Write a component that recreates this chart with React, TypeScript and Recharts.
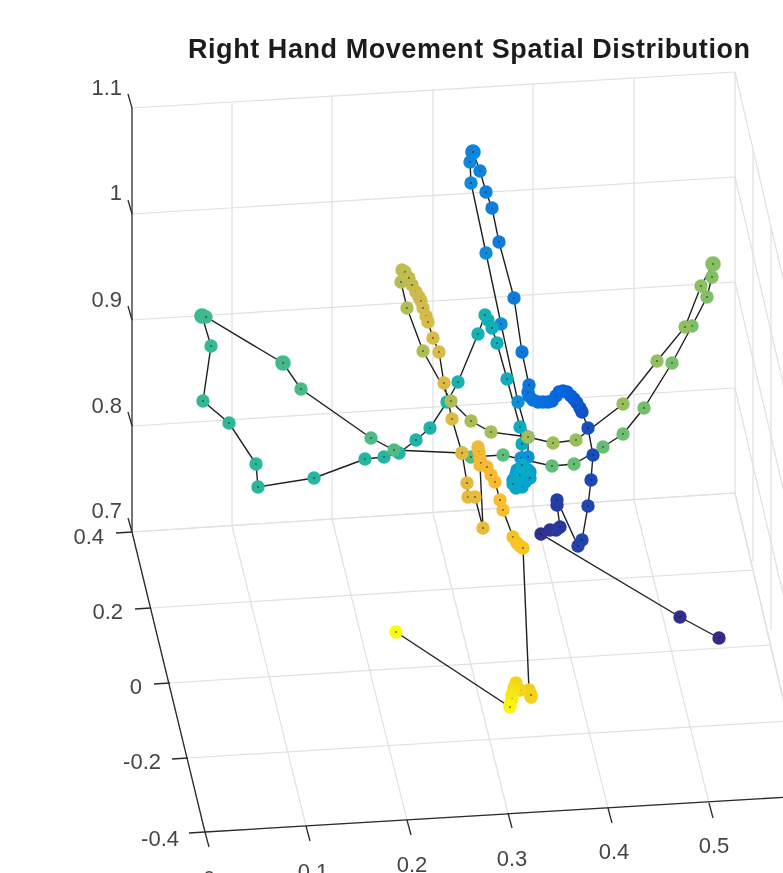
import React from 'react';
import { ScatterChart, Scatter, XAxis, YAxis } from 'recharts';

const W = 783;
const H = 873;

// Trajectory, projected onto the page, in sample order.
const pathX = [719,680,541,550,556,560,557,557,578,582,588,591,593,588,582,580,577,574,571,567,563,559,556,552,548,543,538,533,529,528,529,522,514,499,492,486,480,473,470,471,486,501,518,528,528,521,528,522,517,530,528,523,516,513,518,525,530,522,516,513,520,525,522,522,520,507,497,492,488,485,478,458,447,430,416,399,384,365,314,258,256,229,203,211,202,206,283,301,371,394,462,471,503,552,574,603,623,644,672,692,707,712,713,701,685,657,623,576,553,528,491,471,451,423,407,401,402,405,409,412,416,419,421,423,426,428,433,439,444,452,462,467,468,475,483,480,478,479,480,481,487,491,495,500,503,513,517,520,523,529,530,531,531,520,516,514,514,512,512,510,510,396];
const pathY = [638,617,534,530,530,527,505,500,546,540,506,480,455,428,412,408,403,399,396,392,391,392,396,401,402,402,402,400,396,392,385,352,298,242,208,192,171,152,162,183,253,324,402,437,457,458,470,468,470,472,478,476,474,480,482,482,478,487,488,484,475,470,465,444,427,379,343,328,320,315,334,382,402,428,440,453,457,459,478,487,464,423,401,346,316,317,363,389,438,450,453,457,455,466,464,447,434,408,363,326,297,277,264,286,327,361,404,440,443,437,432,421,401,351,308,282,270,272,278,285,292,297,301,308,316,322,338,352,383,419,453,483,497,497,528,465,447,452,458,463,467,475,482,500,510,537,543,546,548,690,693,697,695,690,683,688,690,695,699,705,707,632];
// Samples whose marker is drawn larger in the reference.
const largeSamples = [37, 84, 86, 102];

const zTickY = [108, 214, 320, 426, 532];
const zTickYRight = [72, 177, 282, 388, 493];
const zLabels = ['1.1', '1', '0.9', '0.8', '0.7'];
const zLabelY = [87, 192, 299, 405, 510];
const zLabelX = [122, 122, 122, 122, 122];

const wallX = [232, 332, 433, 533, 634];
const wallTop = [103, 97, 90, 83, 78];
const wallBottom = [526, 519, 513, 506, 500];

const sideX = [735, 753, 771, 788];

const yTickX = [132, 151, 170, 188, 205];
const yTickY = [532, 608, 683, 758, 832];
const yEndX = [735, 753, 770, 788, 806];
const yEndY = [493, 570, 645, 721, 796];
const yLabels = ['0.4', '0.2', '0', '-0.2', '-0.4'];
const yLabelX = [104, 123, 142, 161, 179];
const yLabelY = [536, 611, 686, 761, 838];

const xFrontX = [205, 306, 407, 508, 608, 709, 806];
const xFrontY = [832, 826, 820, 813, 808, 803, 796];
const xBackX = [132, 232, 332, 433, 533, 634, 735];
const xBackY = [532, 526, 519, 513, 506, 500, 493];
const xLabels = ['0', '0.1', '0.2', '0.3', '0.4', '0.5'];
const xLabelX = [209, 313, 412, 512, 614, 714];
const xLabelY = [878, 871, 864, 858, 851, 845];

const colorStops = [0, 0.125, 0.25, 0.375, 0.5, 0.625, 0.75, 0.88, 0.92, 0.96, 1];
const colorRamp = [
  [53, 42, 135], [6, 99, 222], [16, 140, 218], [6, 170, 200], [44, 184, 152],
  [130, 192, 100], [205, 187, 75], [250, 185, 50], [245, 198, 32], [242, 216, 22], [249, 251, 14],
];
const colorAt = (t: number) => {
  let i = 0;
  while (i < colorStops.length - 2 && t > colorStops[i + 1]) i++;
  const f = (t - colorStops[i]) / (colorStops[i + 1] - colorStops[i]);
  const c = colorRamp[i].map((v, k) => Math.round(v + (colorRamp[i + 1][k] - v) * f));
  return `rgb(${c[0]},${c[1]},${c[2]})`;
};

const path = pathX.map((x, i) => ({
  x,
  y: pathY[i],
  color: colorAt(i / (pathX.length - 1)),
  large: largeSamples.includes(i),
}));

const seg = (a: number, b: number, c: number, d: number) => [{ x: a, y: b }, { x: c, y: d }];

const GRID = '#e0e0e0';
const AXIS = '#2b2b2b';
const TEXT = '#454545';

const gridSegs = [
  ...zTickY.map((y, i) => seg(132, y, 735, zTickYRight[i])),
  ...wallX.map((x, i) => seg(x, wallTop[i], x, wallBottom[i])),
  seg(735, zTickYRight[0], 735, zTickYRight[4]),
  ...sideX.slice(1).map((x) => seg(x, 72 + (x - 735) * 4.35, x, 493 + (x - 735) * 3.8)),
  ...zTickYRight.map((y) => seg(735, y, 806, y + 305)),
  ...yTickX.map((x, i) => seg(x, yTickY[i], yEndX[i], yEndY[i])),
  ...xFrontX.map((x, i) => seg(xBackX[i], xBackY[i], x, xFrontY[i])),
];

const axisSegs = [
  seg(132, 108, 132, 532),
  seg(132, 532, 205, 832),
  seg(205, 832, 806, 796),
  ...zTickY.map((y) => seg(132, y, 128, y - 14)),
  ...yTickX.map((x, i) => seg(x, yTickY[i], x - 16, yTickY[i] + 1)),
  ...xFrontX.slice(0, 6).map((x, i) => seg(x, xFrontY[i], x + 4, xFrontY[i] + 15)),
];

const labelData = [
  ...zLabels.map((t, i) => ({ x: zLabelX[i], y: zLabelY[i], t, a: 'end' })),
  ...yLabels.map((t, i) => ({ x: yLabelX[i], y: yLabelY[i], t, a: 'end' })),
  ...xLabels.map((t, i) => ({ x: xLabelX[i], y: xLabelY[i], t, a: 'middle' })),
];
const titleData = [{ x: 469, y: 49, t: 'Right Hand Movement Spatial Distribution' }];

const noDot = () => <g />;

const Marker = (p: any) => (
  <g>
    <circle cx={p.cx} cy={p.cy} r={p.payload.large ? 7.8 : 6.7} fill={p.payload.color} />
    <circle cx={p.cx} cy={p.cy} r={0.8} fill="#1a1a1a" />
  </g>
);

const Label = (p: any) => (
  <text
    x={p.cx}
    y={p.cy}
    textAnchor={p.payload.a}
    dominantBaseline="central"
    fontFamily="Liberation Sans"
    fontSize={22}
    fill={TEXT}
  >
    {p.payload.t}
  </text>
);

const Title = (p: any) => (
  <text
    x={p.cx}
    y={p.cy}
    textAnchor="middle"
    dominantBaseline="central"
    fontFamily="Liberation Sans"
    fontWeight="bold"
    fontSize={27}
    fill="#1c1c1c"
    textLength={562}
    lengthAdjust="spacing"
  >
    {p.payload.t}
  </text>
);

export default function App() {
  return (
    <div style={{ position: 'absolute', left: 0, top: 0, width: W, height: H, overflow: 'hidden', filter: 'blur(0.5px)' }}>
      <ScatterChart width={W} height={H} margin={{ top: 0, right: 0, bottom: 0, left: 0 }}>
        <XAxis type="number" dataKey="x" domain={[0, W]} hide allowDataOverflow />
        <YAxis type="number" dataKey="y" domain={[0, H]} reversed hide allowDataOverflow />
        {gridSegs.map((d, i) => (
          <Scatter key={`g${i}`} data={d} line={{ stroke: GRID, strokeWidth: 1.2 }} shape={noDot} isAnimationActive={false} />
        ))}
        {axisSegs.map((d, i) => (
          <Scatter key={`a${i}`} data={d} line={{ stroke: AXIS, strokeWidth: 1.3 }} shape={noDot} isAnimationActive={false} />
        ))}
        <Scatter data={path} line={{ stroke: '#1f1f1f', strokeWidth: 1.4 }} shape={Marker} isAnimationActive={false} />
        <Scatter data={labelData} shape={Label} isAnimationActive={false} />
        <Scatter data={titleData} shape={Title} isAnimationActive={false} />
      </ScatterChart>
    </div>
  );
}
